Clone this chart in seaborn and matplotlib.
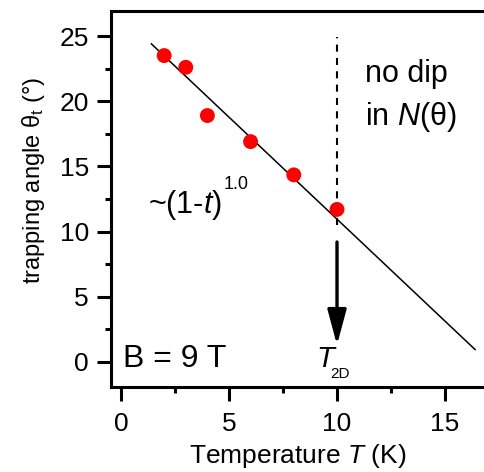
import matplotlib
matplotlib.use("Agg")
import matplotlib.pyplot as plt
from matplotlib.ticker import MultipleLocator
import numpy as np
import pandas as pd
import seaborn as sns

# Measured trapping angle vs temperature at B = 9 T
temperature_K = [2, 3, 4, 6, 8, 10]
trapping_angle_deg = [23.5, 22.6, 18.9, 16.9, 14.35, 11.7]

# Linear fit  theta ~ theta0 * (1 - T/Tc)
fit_theta0 = 26.6
fit_Tc = 17.0
fit_T_range = [1.4, 16.4]

# Transition temperature marker
T_2D = 10.0
dash_y_range = [10.5, 24.9]
arrow_y_range = [9.2, 1.3]

x_major_ticks = [0, 5, 10, 15]
y_major_ticks = [0, 5, 10, 15, 20, 25]

sns.set_theme(style="ticks")
plt.rcParams["font.family"] = ["Liberation Sans", "DejaVu Sans"]
plt.rcParams["mathtext.fontset"] = "custom"
plt.rcParams["mathtext.rm"] = "Liberation Sans"
plt.rcParams["mathtext.it"] = "Liberation Sans:italic"
for key in ["text.color", "axes.labelcolor", "xtick.color", "ytick.color",
            "axes.edgecolor"]:
    plt.rcParams[key] = "black"

fig = plt.figure(figsize=(4.85, 4.72), dpi=100)
ax = fig.add_axes([0.2289, 0.1801, 0.7711, 0.7972])

points = pd.DataFrame({"T": temperature_K, "theta": trapping_angle_deg})
fit_T = np.array(fit_T_range)
fit = pd.DataFrame({"T": fit_T, "theta": fit_theta0 * (1 - fit_T / fit_Tc)})

sns.lineplot(data=fit, x="T", y="theta", ax=ax, color="black", lw=1.1, zorder=2)
sns.scatterplot(data=points, x="T", y="theta", ax=ax, color="red", s=115,
                edgecolor="none", zorder=3)

# dashed guide at T_2D and the arrow below it
ax.plot([T_2D, T_2D], dash_y_range, color="black", lw=1.5, ls=(0, (3.4, 3.0)), zorder=1)
ax.annotate("", xy=(T_2D, arrow_y_range[1]), xytext=(T_2D, arrow_y_range[0]),
            arrowprops=dict(arrowstyle="-|>,head_length=1.08,head_width=0.29",
                            mutation_scale=20, lw=2.4, color="black",
                            shrinkA=0, shrinkB=0))

ax.set_xlim(-0.46, 16.85)
ax.set_ylim(-1.92, 26.94)

ax.xaxis.set_major_locator(plt.FixedLocator(x_major_ticks))
ax.yaxis.set_major_locator(plt.FixedLocator(y_major_ticks))
ax.xaxis.set_minor_locator(MultipleLocator(2.5))
ax.yaxis.set_minor_locator(MultipleLocator(2.5))

for s in ["left", "bottom", "top"]:
    ax.spines[s].set_linewidth(2.2)
    ax.spines[s].set_color("black")
ax.spines["right"].set_visible(False)

ax.tick_params(axis="both", which="major", direction="out", length=10, width=2.2,
               color="black", labelsize=19, labelcolor="black")
ax.tick_params(axis="both", which="minor", direction="out", length=4.3, width=2.2,
               color="black")
ax.tick_params(axis="x", which="major", pad=8)
ax.tick_params(axis="y", which="major", pad=6)

ax.set_xlabel(r"Temperature $\mathit{T}$ (K)", fontsize=19, color="black")
ax.set_ylabel(r"trapping angle θ$_\mathregular{t}$ (°)", fontsize=17, color="black")
ax.xaxis.set_label_coords(0.5, -0.145)
ax.yaxis.set_label_coords(-0.171, 0.55)

# annotations
ax.text(11.3, 21.5, "no dip", fontsize=22, va="baseline", ha="left")
ax.text(11.3, 18.2, r"in $\mathit{N}$(θ)", fontsize=22, va="baseline", ha="left")
ax.text(1.25, 11.4, r"~(1-$\mathit{t}$)", fontsize=22, va="baseline", ha="left")
ax.text(4.77, 13.3, "1.0", fontsize=13, va="baseline", ha="left")
ax.text(0.09, -0.38, "B = 9 T", fontsize=23, va="baseline", ha="left")
ax.text(9.03, -0.38, "T", fontsize=21, va="baseline", ha="left", style="italic")
ax.text(9.68, -1.23, "2D", fontsize=11, va="baseline", ha="left")

fig.savefig("out.png", dpi=100)
